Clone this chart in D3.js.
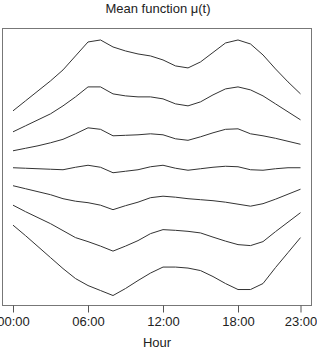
<!DOCTYPE html>
<html>
<head>
<meta charset="utf-8">
<script src="https://cdn.jsdelivr.net/npm/d3@7"></script>
<style>
  body { margin: 0; background: #fff; }
  svg text { font-family: "Liberation Sans", Arial, sans-serif; fill: #222; }
</style>
</head>
<body>
<div id="chart"></div>
<script>
'use strict'

// hours of the day (x)
const hours = d3.range(0, 24)

// tick labels on the x axis
const tickHours = [0, 6, 12, 18, 23]
const tickLabels = ["00:00", "06:00", "12:00", "18:00", "23:00"]

// curves, top to bottom (arbitrary units)
const curve1 = [5.7, 6.7, 7.7, 8.7, 9.8, 11.2, 12.6, 12.8, 12.1, 11.7, 11.4, 11.2, 10.8, 10.2, 10.0, 10.6, 11.55, 12.5, 12.8, 12.4, 11.3, 9.9, 8.6, 7.4]
const curve2 = [3.6, 4.2, 4.8, 5.4, 6.2, 7.1, 8.1, 8.1, 7.4, 7.2, 7.1, 7.1, 6.9, 6.4, 6.2, 6.6, 7.3, 7.9, 8.1, 7.8, 7.2, 6.4, 5.6, 4.8]
const curve3 = [1.7, 1.95, 2.2, 2.5, 2.85, 3.4, 4.0, 3.85, 3.2, 3.25, 3.3, 3.4, 3.3, 2.9, 2.75, 3.1, 3.5, 3.85, 3.9, 3.4, 3.2, 2.95, 2.65, 2.35]
const curve4 = [0, -0.05, -0.1, -0.15, -0.2, 0.05, 0.25, 0.05, -0.5, -0.35, -0.2, 0.1, 0.25, -0.05, -0.25, -0.1, 0.05, 0.15, 0.1, -0.2, -0.25, -0.1, 0, 0]
const curve5 = [-1.8, -2.1, -2.4, -2.7, -3.1, -3.35, -3.5, -3.75, -4.2, -3.8, -3.45, -3.0, -2.85, -2.95, -3.1, -3.2, -3.3, -3.45, -3.65, -3.85, -3.6, -3.15, -2.65, -2.15]
const curve6 = [-3.75, -4.4, -5.0, -5.6, -6.3, -7.0, -7.4, -7.85, -8.35, -7.85, -7.3, -6.6, -6.2, -6.27, -6.37, -6.53, -6.95, -7.35, -7.7, -7.8, -7.4, -6.4, -5.45, -4.5]
const curve7 = [-5.75, -6.8, -7.9, -9.0, -10.1, -11.1, -11.8, -12.3, -12.8, -12.1, -11.3, -10.55, -9.95, -9.95, -10.05, -10.3, -10.9, -11.6, -12.2, -12.2, -11.6, -10.0, -8.5, -7.0]

const curves = [curve1, curve2, curve3, curve4, curve5, curve6, curve7]

////////////////////////////////////
//////////// svg setup /////////////
////////////////////////////////////

const svgWidth = 317
const svgHeight = 348

const box = { left: 2, right: 311.5, top: 28.5, bottom: 305.5 }

const svg = d3.select("#chart")
    .append("svg")
    .attr("width", svgWidth)
    .attr("height", svgHeight)

////////////////////////////////////
//////////// Scales ////////////////
////////////////////////////////////

const x = d3.scaleLinear().domain([0, 23]).range([13, 300.5])
const y = d3.scaleLinear().domain([-13.8, 13.95]).range([box.bottom, box.top])

////////////////////////////////////
//////////// add to DOM ////////////
////////////////////////////////////

// plot frame
svg.append("rect")
    .attr("x", box.left + 0.5)
    .attr("y", box.top)
    .attr("width", box.right - box.left - 0.5)
    .attr("height", box.bottom - box.top)
    .attr("fill", "none")
    .attr("stroke", "#777")
    .attr("stroke-width", 1)

const line = d3.line()
    .x((d, i) => x(hours[i]))
    .y(d => y(d))

svg.selectAll(".curve")
    .data(curves)
    .join("path")
    .attr("class", "curve")
    .attr("d", line)
    .attr("fill", "none")
    .attr("stroke", "#333")
    .attr("stroke-width", 1)

// x axis
const xAxis = d3.axisBottom(x)
    .tickValues(tickHours)
    .tickFormat((d, i) => tickLabels[i])
    .tickSize(7)
    .tickPadding(4)

const gx = svg.append("g")
    .attr("transform", `translate(0,${box.bottom})`)
    .call(xAxis)

gx.select(".domain").remove()
gx.selectAll(".tick line").attr("stroke", "#555")
gx.selectAll(".tick text")
    .style("font-size", "13px")
    .style("font-family", '"Liberation Sans", Arial, sans-serif')
    .attr("fill", "#222")

// titles
svg.append("text")
    .attr("x", 158)
    .attr("y", 12.5)
    .attr("text-anchor", "middle")
    .style("font-size", "13px")
    .text("Mean function μ(t)")

svg.append("text")
    .attr("x", 157)
    .attr("y", 347)
    .attr("text-anchor", "middle")
    .style("font-size", "13px")
    .text("Hour")
</script>
</body>
</html>
